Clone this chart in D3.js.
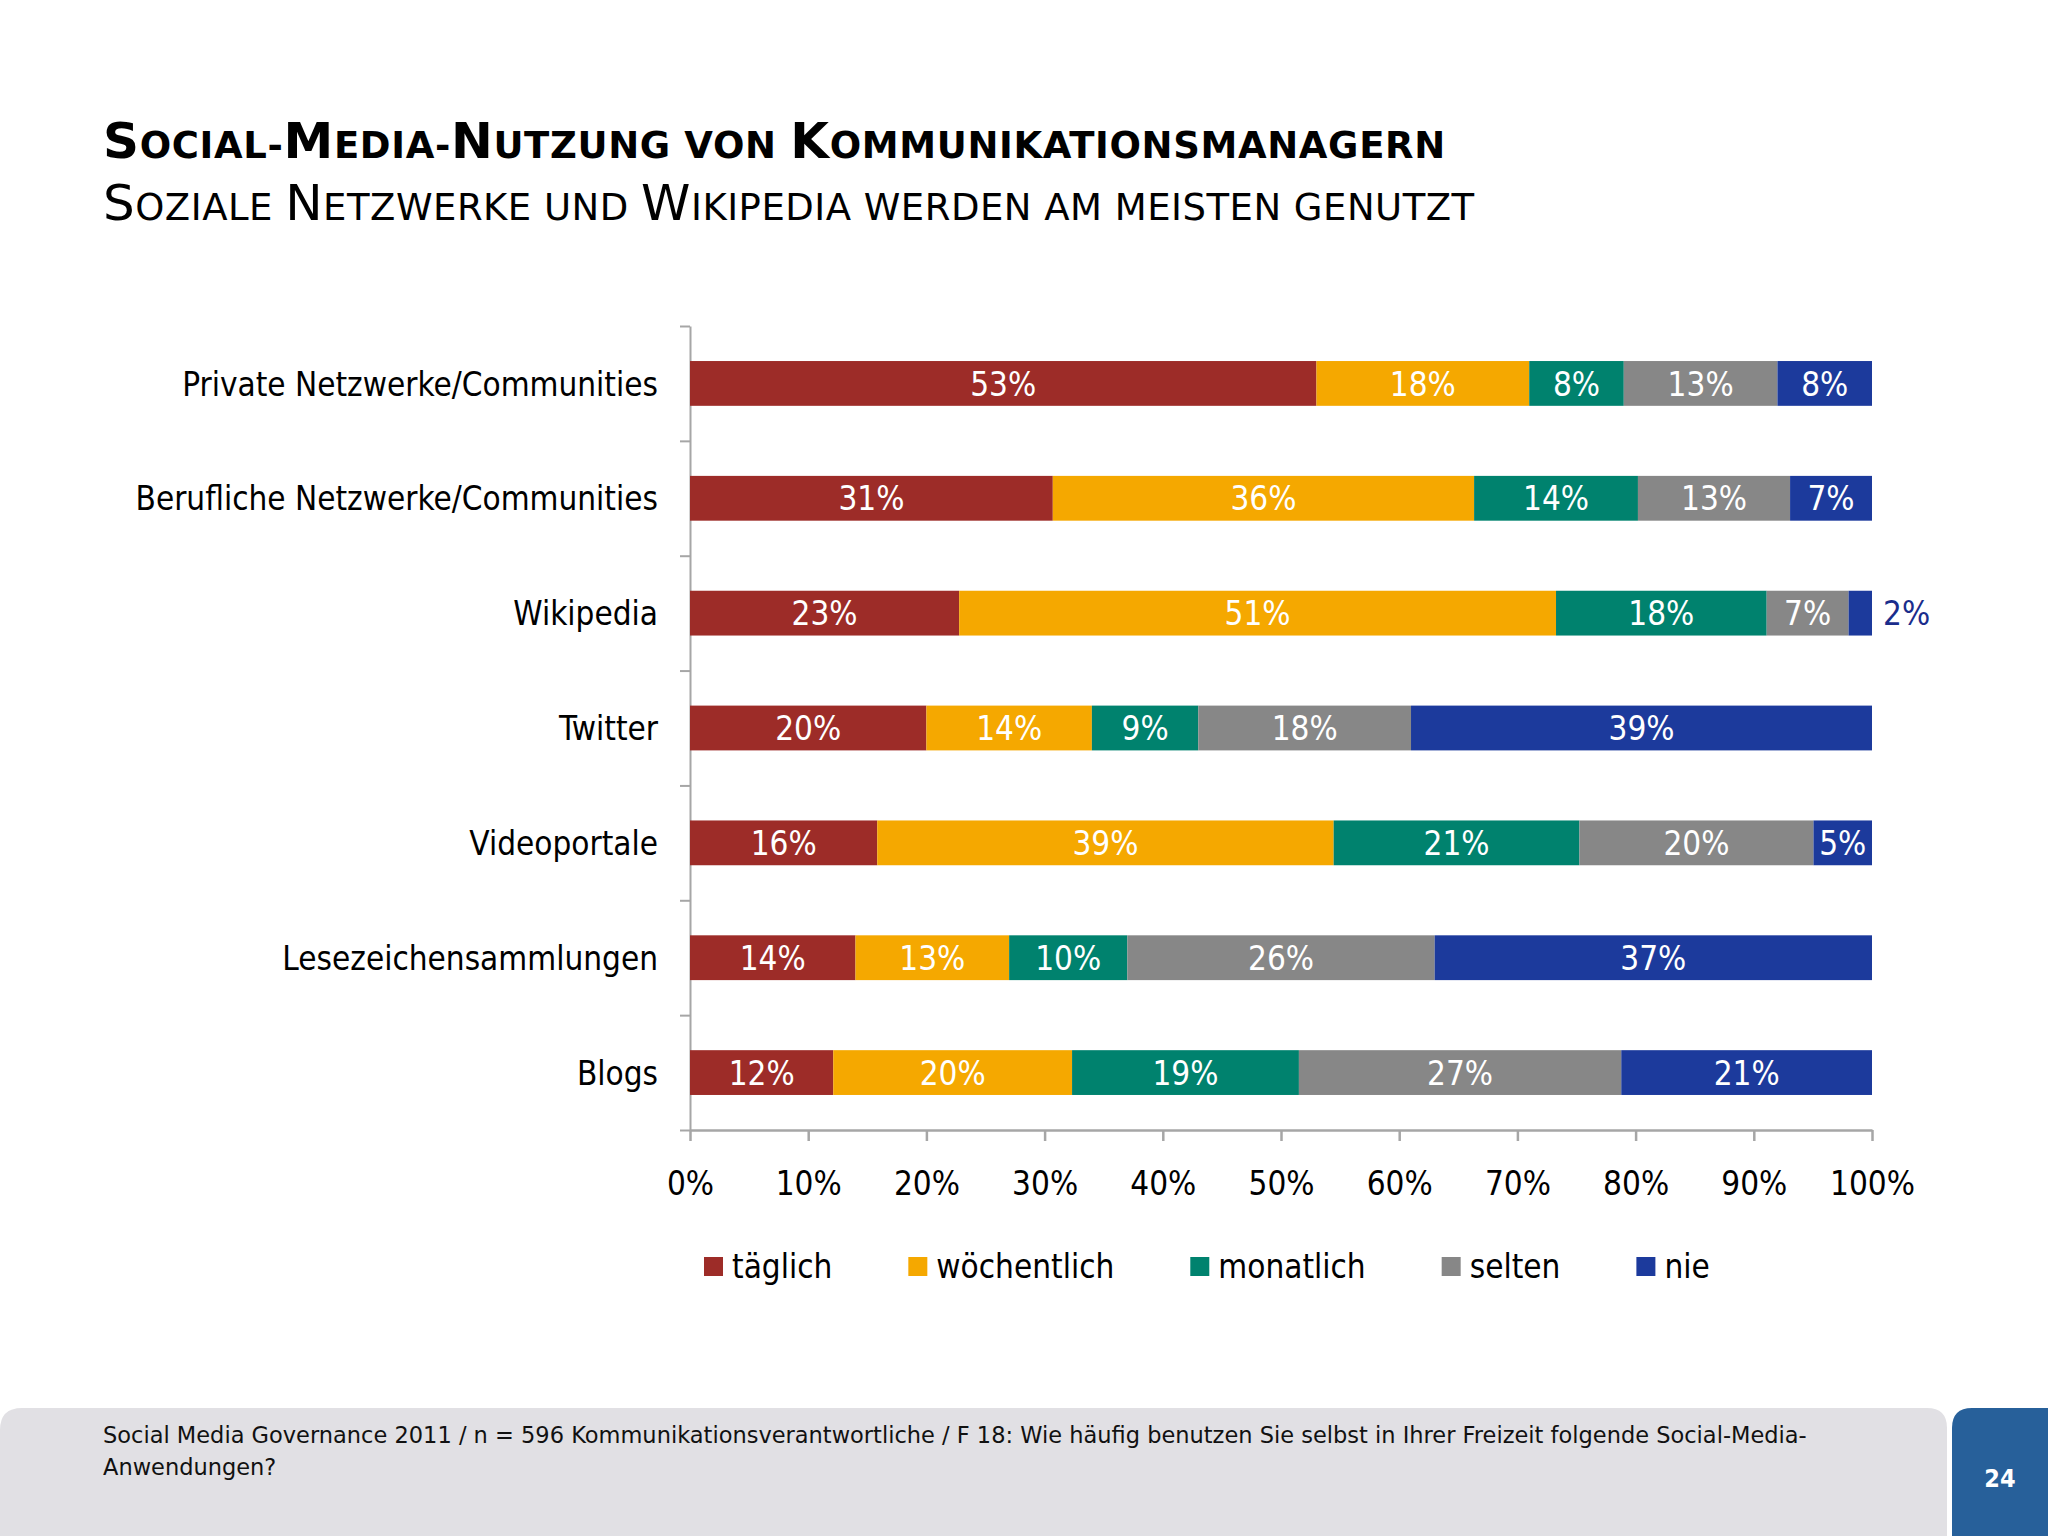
<!DOCTYPE html>
<html>
<head>
<meta charset="utf-8">
<script src="https://cdn.jsdelivr.net/npm/d3@7"></script>
<style>
  body { margin: 0; background: #fff; }
  svg text { font-family: "DejaVu Sans Condensed", "DejaVu Sans", sans-serif; }
</style>
</head>
<body>
<div id="chart"></div>
<script>
var categories = ['Private Netzwerke/Communities', 'Berufliche Netzwerke/Communities', 'Wikipedia',
  'Twitter', 'Videoportale', 'Lesezeichensammlungen', 'Blogs'];

var keys = ['täglich', 'wöchentlich', 'monatlich', 'selten', 'nie'];

// percentages as printed on the bars
var taeglich    = [53, 31, 23, 20, 16, 14, 12];
var woechentlich = [18, 36, 51, 14, 39, 13, 20];
var monatlich   = [8, 14, 18, 9, 21, 10, 19];
var selten      = [13, 13, 7, 18, 20, 26, 27];
var nie         = [8, 7, 2, 39, 5, 37, 21];

var xTicks = [0, 0.1, 0.2, 0.3, 0.4, 0.5, 0.6, 0.7, 0.8, 0.9, 1];

var colors = ['#9d2c28', '#f5a800', '#00826e', '#878787', '#1c3a9c'];

var series = [taeglich, woechentlich, monatlich, selten, nie];
var data = categories.map(function(c, i) {
  var row = { cat: c };
  keys.forEach(function(k, j) { row[k] = series[j][i]; });
  return row;
});

var width = 2048,
  height = 1536;

var svg = d3.select('#chart')
  .append('svg')
  .attr('width', width)
  .attr('height', height);

// Small caps done by hand: capitals at full size, the rest uppercased and smaller.
function smallCaps(sel, str, size) {
  var parts = str.match(/([A-ZÄÖÜ]+|[^A-ZÄÖÜ]+)/g);
  parts.forEach(function(p) {
    var upper = /^[A-ZÄÖÜ]+$/.test(p);
    sel.append('tspan')
      .style('font-size', (upper ? size : size * 0.74) + 'px')
      .text(p.toUpperCase());
  });
}

var title = svg.append('text')
  .attr('x', 103)
  .attr('y', 158)
  .style('font-family', '"DejaVu Sans", sans-serif')
  .style('font-weight', 'bold')
  .style('letter-spacing', '0.65px');
smallCaps(title, 'Social-Media-Nutzung von Kommunikationsmanagern', 50);

var subtitle = svg.append('text')
  .attr('x', 103)
  .attr('y', 220)
  .style('font-family', '"DejaVu Sans", sans-serif')
  .style('letter-spacing', '0.5px');
smallCaps(subtitle, 'Soziale Netzwerke und Wikipedia werden am meisten genutzt', 50);

var plot = { left: 690, right: 1872, top: 326, bottom: 1130 };

var xScale = d3.scaleLinear()
  .domain([0, 1])
  .range([plot.left, plot.right]);

var yScale = d3.scaleBand()
  .domain(categories)
  .range([plot.top, plot.bottom])
  .paddingInner(0.61)
  .paddingOuter(0.305);

// boundaries between the categories, for the tick marks on the left axis
var yEdges = d3.scaleLinear()
  .domain([0, categories.length])
  .range([plot.top, plot.bottom]);

var stack = d3.stack()
  .keys(keys)
  .offset(d3.stackOffsetExpand);

var stacked = stack(data);

// Axes
var yAxis = svg.append('g')
  .attr('transform', 'translate(' + plot.left + ',0)')
  .call(d3.axisLeft(yEdges)
    .tickValues(d3.range(categories.length + 1))
    .tickSize(10)
    .tickSizeOuter(0)
    .tickFormat(''));
yAxis.selectAll('path, line').attr('stroke', '#a6a6a6').attr('stroke-width', 2);

var xAxis = svg.append('g')
  .attr('transform', 'translate(0,' + plot.bottom + ')')
  .call(d3.axisBottom(xScale)
    .tickValues(xTicks)
    .tickSize(11)
    .tickSizeOuter(0)
    .tickPadding(31)
    .tickFormat(d3.format('.0%')));
xAxis.selectAll('path, line').attr('stroke', '#a6a6a6').attr('stroke-width', 2.5);
xAxis.selectAll('text')
  .style('font-size', '33px')
  .style('font-family', '"DejaVu Sans Condensed", "DejaVu Sans", sans-serif')
  .attr('fill', '#000');

// Category labels
svg.append('g')
  .selectAll('text')
  .data(categories)
  .enter()
  .append('text')
  .attr('x', 658)
  .attr('y', function(d) { return yScale(d) + yScale.bandwidth() / 2; })
  .attr('dy', '0.37em')
  .attr('text-anchor', 'end')
  .style('font-size', '33px')
  .text(function(d) { return d; });

// Bars
var groups = svg.append('g')
  .selectAll('g')
  .data(stacked)
  .enter()
  .append('g')
  .attr('fill', function(d, i) { return colors[i]; });

groups.selectAll('rect')
  .data(function(d) { return d; })
  .enter()
  .append('rect')
  .attr('x', function(d) { return xScale(d[0]); })
  .attr('y', function(d) { return yScale(d.data.cat); })
  .attr('width', function(d) { return xScale(d[1]) - xScale(d[0]); })
  .attr('height', yScale.bandwidth());

// Value labels, the narrow ones go to the right of the bar
groups.each(function(s) {
  d3.select(this).selectAll('text')
    .data(s)
    .enter()
    .append('text')
    .each(function(d) {
      var w = xScale(d[1]) - xScale(d[0]);
      var t = d3.select(this)
        .attr('y', yScale(d.data.cat) + yScale.bandwidth() / 2)
        .attr('dy', '0.37em')
        .style('font-size', '33px')
        .text(d.data[s.key] + '%');
      if (w < 30) {
        t.attr('x', xScale(d[1]) + 11).attr('text-anchor', 'start').attr('fill', '#1a2d8c');
      } else {
        t.attr('x', (xScale(d[0]) + xScale(d[1])) / 2).attr('text-anchor', 'middle').attr('fill', '#fff');
      }
    });
});

// Legend
var legend = svg.append('g');
var lx = 704;
keys.forEach(function(k, i) {
  var item = legend.append('g').attr('transform', 'translate(' + lx + ',1257)');
  item.append('rect')
    .attr('width', 19)
    .attr('height', 19)
    .attr('fill', colors[i]);
  var t = item.append('text')
    .attr('x', 28)
    .attr('y', 21)
    .style('font-size', '33px')
    .text(k);
  lx += 28 + t.node().getComputedTextLength() + 76;
});

// Footer
svg.append('path')
  .attr('d', 'M0,1430 Q0,1408 22,1408 L1927,1408 Q1947,1408 1947,1428 L1947,1536 L0,1536 Z')
  .attr('fill', '#e1e0e4');

svg.append('path')
  .attr('d', 'M1952,1428 Q1952,1408 1972,1408 L2048,1408 L2048,1536 L1952,1536 Z')
  .attr('fill', '#27609a');

svg.append('text')
  .attr('x', 2000)
  .attr('y', 1487)
  .attr('text-anchor', 'middle')
  .attr('fill', '#fff')
  .style('font-size', '25px')
  .style('font-weight', 'bold')
  .text('24');

var foot = svg.append('text')
  .attr('x', 103)
  .attr('y', 1443)
  .style('font-size', '22.5px')
  .style('font-family', '"DejaVu Sans", sans-serif')
  .attr('fill', '#111');
foot.append('tspan')
  .attr('x', 103)
  .text('Social Media Governance 2011 / n = 596 Kommunikationsverantwortliche / F 18: Wie häufig benutzen Sie selbst in Ihrer Freizeit folgende Social-Media-');
foot.append('tspan')
  .attr('x', 103)
  .attr('dy', 32)
  .text('Anwendungen?');
</script>
</body>
</html>
